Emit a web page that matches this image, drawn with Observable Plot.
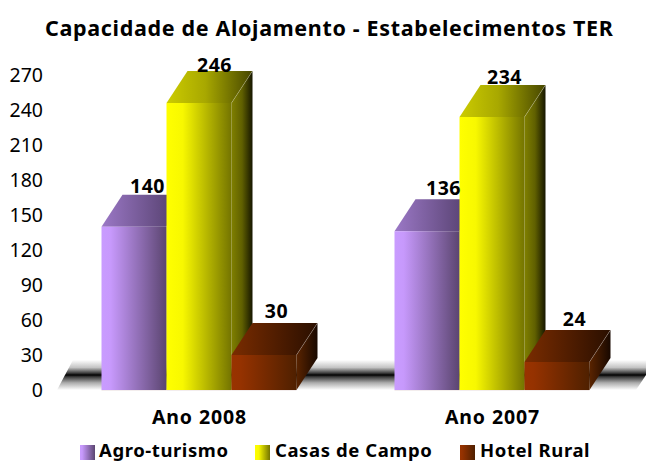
<!DOCTYPE html>
<html lang="pt">
<head>
<meta charset="utf-8">
<script src="https://cdn.jsdelivr.net/npm/d3@7"></script>
<script src="https://cdn.jsdelivr.net/npm/@observablehq/plot@0.6"></script>
<style>
  html,body{margin:0;padding:0;background:#fff;overflow:hidden;width:646px;height:462px;font-family:"Noto Sans",sans-serif;color:#000}
  #title{position:absolute;left:45px;top:13px;height:30px;line-height:30px;font-weight:bold;font-size:21.5px;letter-spacing:.66px;white-space:nowrap}
  #chart{position:absolute;left:0;top:50px}
  #legend{position:absolute;left:0;top:438px;width:646px;height:24px;font-weight:bold;font-size:18.5px;line-height:24px;letter-spacing:.58px}
  #legend .k{position:absolute;top:7px;width:15px;height:15px}
  #legend .t{position:absolute;top:0;white-space:nowrap}
  svg text{font-family:"Noto Sans",sans-serif}
  svg g[aria-label="text"] text{letter-spacing:.5px}
  svg g[aria-label="fx-axis tick label"] text{letter-spacing:.9px}
</style>
</head>
<body>
<svg width="0" height="0" style="position:absolute">
  <defs id="defs"></defs>
</svg>
<div id="title">Capacidade de Alojamento - Estabelecimentos TER</div>
<div id="chart"></div>
<div id="legend"></div>
<script>
// Data
const years = ["Ano 2008", "Ano 2007"];
const seriesNames = ["Agro-turismo", "Casas de Campo", "Hotel Rural"];
const values2008 = [140, 246, 30];
const values2007 = [136, 234, 24];
const yTicks = [0, 30, 60, 90, 120, 150, 180, 210, 240, 270];

// Styling
const palette = {
  "Agro-turismo":   {id: "a", front: [["0", "#c99cff"], [".14", "#c799fc"], ["1", "#5b4570"]], top: [["0", "#9b78c6"], ["1", "#4a3760"]], side: [["0", "#5b4570"], ["1", "#2a2040"]]},
  "Casas de Campo": {id: "c", front: [["0", "#ffff00"], [".25", "#f8f800"], ["1", "#747400"]], top: [["0", "#cccc00"], [".45", "#a8a800"], ["1", "#464600"]], side: [["0", "#808000"], [".5", "#606000"], ["1", "#161600"]]},
  "Hotel Rural":    {id: "h", front: [["0", "#993300"], [".14", "#953200"], ["1", "#4f2000"]], top: [["0", "#7a2c00"], ["1", "#2a0f00"]], side: [["0", "#5a2400"], ["1", "#180800"]]}
};
const depthX = 21, depthY = 32;
const labelNudges = [[13, -40], [15, -38], [12, -44], [16, -43], [12, -40], [17, -43]];

const NS = "http://www.w3.org/2000/svg";
const el = (name, attrs) => {
  const n = document.createElementNS(NS, name);
  for (const k in attrs) n.setAttribute(k, attrs[k]);
  return n;
};
const defs = document.getElementById("defs");
const grad = (id, stops, vertical) => {
  const g = el("linearGradient", {id, x1: 0, y1: 0, x2: vertical ? 0 : 1, y2: vertical ? 1 : 0});
  for (const [o, c] of stops) g.appendChild(el("stop", {offset: o, "stop-color": c}));
  defs.appendChild(g);
};
for (const s of seriesNames) {
  const p = palette[s];
  grad(p.id + "f", p.front);
  grad(p.id + "t", p.top);
  grad(p.id + "s", p.side);
}
grad("floor", [["0", "#ffffff"], [".25", "#c4c4c4"], [".44", "#3a3a3a"], [".5", "#000000"], [".56", "#3a3a3a"], [".76", "#acacac"], ["1", "#ffffff"]], true);

const rows = [];
years.forEach((year, g) => {
  const vals = g === 0 ? values2008 : values2007;
  seriesNames.forEach((series, i) => rows.push({year, series, value: vals[i]}));
});

// Custom 3D block renderer fed by the bar's own scaled channels
const block = (index, scales, values) => {
  const group = el("g", {});
  const bw = scales.x.bandwidth();
  for (const i of index) {
    const x0 = values.x[i], x1 = x0 + bw;
    const yb = Math.max(values.y1[i], values.y2[i]), yt = Math.min(values.y1[i], values.y2[i]);
    const id = palette[rows[i].series].id;
    const poly = (pts, fill) => group.appendChild(el("polygon", {points: pts.map(p => p.join(",")).join(" "), fill}));
    poly([[x1, yb], [x1 + depthX, yb - depthY], [x1 + depthX, yt - depthY], [x1, yt]], `url(#${id}s)`);
    poly([[x0, yt], [x0 + depthX, yt - depthY], [x1 + depthX, yt - depthY], [x1, yt]], `url(#${id}t)`);
    poly([[x0, yt], [x1, yt], [x1, yb], [x0, yb]], `url(#${id}f)`);
    group.appendChild(el("line", {x1, y1: yt, x2: x1 + depthX, y2: yt - depthY, stroke: "#fff", "stroke-opacity": .28, "stroke-width": .8}));
    group.appendChild(el("line", {x1: x0, y1: yb + .5, x2: x1, y2: yb + .5, stroke: "#f0e8e8", "stroke-opacity": .8, "stroke-width": 1}));
  }
  return group;
};

const floor = (index, scales) => {
  const yb = scales.y(0), yt = yb - 30;
  return el("polygon", {points: `57,${yb} 73,${yt} 646,${yt} 646,${yb - 15} 636,${yb}`, fill: "url(#floor)"});
};

const plot = Plot.plot({
  width: 646,
  height: 390,
  marginTop: 25,
  marginBottom: 50,
  marginLeft: 52.5,
  marginRight: 7.5,
  style: {background: "transparent", overflow: "visible"},
  y: {domain: [0, 270], label: null},
  x: {domain: seriesNames, axis: null, type: "band", paddingInner: 0, paddingOuter: 0.754, round: false},
  fx: {domain: years, axis: null, padding: 0, label: null, round: false},
  marks: [
    Plot.frame({facet: "super", stroke: "none", render: floor}),
    Plot.axisY({ticks: yTicks, anchor: "left", tickSize: 0, tickPadding: 10, label: null, fontSize: 19.5, tickFormat: d => String(d)}),
    Plot.barY(rows, {fx: "year", x: "series", y: "value", render: block}),
    ...rows.map((r, i) => Plot.text([r], {
      fx: "year", x: "series", y: "value", text: d => String(d.value),
      dx: labelNudges[i][0], dy: labelNudges[i][1],
      fontSize: 19.5, fontWeight: "bold", fill: "#000"
    })),
    Plot.axisFx({anchor: "bottom", tickSize: 0, tickPadding: 20, label: null, fontSize: 19.5, fontWeight: "bold"})
  ]
});
document.getElementById("chart").appendChild(plot);

// Legend
const legend = document.getElementById("legend");
const legendX = [[80, 99], [255, 275], [460, 480]];
const cssStops = s => palette[s].front.map(([o, c]) => `${c} ${parseFloat(o) * 100}%`).join(",");
seriesNames.forEach((s, i) => {
  const k = document.createElement("span");
  k.className = "k"; k.style.left = legendX[i][0] + "px";
  k.style.background = `linear-gradient(to right,${cssStops(s)})`;
  const t = document.createElement("span");
  t.className = "t"; t.style.left = legendX[i][1] + "px"; t.textContent = s;
  legend.append(k, t);
});
</script>
</body>
</html>
